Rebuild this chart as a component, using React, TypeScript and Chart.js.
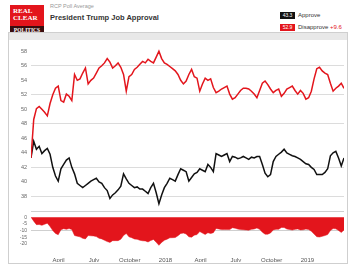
import React, { useEffect, useRef } from "react";
import { Chart, registerables } from "chart.js";

Chart.register(...registerables);

// Weekly RCP averages, starting on the first week below
const START_DATE = "2017-01-20";

const approve = [
  43.3, 45.6, 44.5, 44.9, 43.9, 44.3, 44.6, 43.8, 42.0, 40.8,
  40.1, 41.8, 42.4, 43.0, 43.3, 42.0, 41.1, 39.8, 39.5, 39.2,
  39.5, 39.8, 40.1, 40.3, 40.5, 40.0, 39.8, 39.2, 38.8, 37.7,
  38.2, 38.5, 38.9, 39.4, 41.1, 40.4, 39.8, 39.5, 39.2, 39.3,
  39.0, 39.0, 38.7, 38.4, 39.2, 39.8, 38.5, 37.0, 38.2, 39.2,
  39.8, 40.5, 40.3, 40.1, 41.0, 41.8, 41.6, 41.4, 40.1, 40.6,
  41.1, 41.3, 41.8, 41.6, 41.4, 42.4, 42.0, 41.4, 43.9, 43.7,
  43.5, 43.7, 43.9, 42.8, 43.5, 43.4, 43.2, 43.3, 43.5, 43.3,
  43.1, 43.4, 43.3, 43.5, 43.5, 42.4, 41.2, 40.7, 41.0, 42.8,
  43.5, 43.8, 44.1, 44.5, 44.0, 43.8, 43.6, 43.5, 43.3, 43.1,
  42.8, 42.5, 42.4, 42.0, 41.7, 41.0, 41.0, 41.0, 41.3, 41.8,
  43.6, 44.0, 44.2, 43.3, 42.2, 43.3,
];

const disapprove = [
  43.3, 48.6, 50.1, 50.4, 50.0, 49.6, 49.1, 50.8, 52.0, 52.9,
  53.2, 51.2, 51.0, 52.1, 51.8, 51.2, 54.8, 54.0, 54.2, 55.0,
  55.7, 53.5, 54.0, 54.3, 55.0, 55.7, 56.0, 56.4, 57.0, 56.5,
  55.7, 56.0, 56.4, 55.8, 54.8, 52.5, 54.5, 54.8, 55.5, 55.8,
  56.2, 56.6, 56.4, 56.9, 56.6, 56.4, 57.2, 58.0, 57.0, 56.4,
  56.2, 55.9, 55.6, 55.3, 54.8, 54.0, 53.5, 53.9, 54.8, 55.5,
  54.5, 54.3, 52.5, 53.5, 54.3, 54.0, 54.2, 53.0, 52.3, 52.5,
  52.8, 53.0, 53.2, 52.1, 51.4, 51.6, 52.1, 52.6, 52.9, 52.9,
  52.8, 52.5, 52.1, 51.6, 52.6, 53.6, 53.9, 53.4, 52.8, 52.3,
  52.6, 52.8, 51.8, 52.2, 52.8, 53.0, 53.2, 52.6, 52.1, 52.6,
  52.2, 51.4, 51.6, 52.5, 54.2, 55.6, 55.8, 55.3, 55.0, 54.8,
  53.6, 52.5, 52.9, 53.2, 53.6, 52.9,
];

const xTickDates = [
  "2017-04-01", "2017-07-01", "2017-10-01", "2018-01-01",
  "2018-04-01", "2018-07-01", "2018-10-01", "2019-01-01",
];
const xTickLabels = ["April", "July", "October", "2018", "April", "July", "October", "2019"];

const mainTicks = [58, 56, 54, 52, 50, 48, 46, 44, 42, 40, 38];
const mainGridValues = [56, 52, 48, 42, 38];
const spreadTicks = [0, -5, -10, -15, -20];

const DAY_MS = 86400000;
const dayOf = (d: string) => (Date.parse(d) - Date.parse(START_DATE)) / DAY_MS;

const RED = "#e3151c";
const FONT = "'Liberation Sans', Arial, sans-serif";

function RcpChart() {
  const ref = useRef<HTMLCanvasElement | null>(null);
  useEffect(() => {
    if (!ref.current) return;
    const days = approve.map((_, i) => i * 7);
    const approvePts = approve.map((v, i) => ({ x: days[i], y: v }));
    const disapprovePts = disapprove.map((v, i) => ({ x: days[i], y: v }));
    const spreadPts = approve.map((v, i) => ({ x: days[i], y: +(v - disapprove[i]).toFixed(1) }));
    const tickDays = xTickDates.map(dayOf);
    const SPREAD_TOP = 4.4;

    const chart = new Chart(ref.current, {
      type: "line",
      data: {
        datasets: [
          {
            data: disapprovePts,
            yAxisID: "y",
            borderColor: RED,
            borderWidth: 1.5,
            pointRadius: 0,
            fill: false,
            tension: 0,
          },
          {
            data: approvePts,
            yAxisID: "y",
            borderColor: "#111",
            borderWidth: 1.5,
            pointRadius: 0,
            fill: false,
            tension: 0,
          },
          {
            data: spreadPts,
            yAxisID: "y2",
            borderColor: RED,
            borderWidth: 0.5,
            backgroundColor: RED,
            pointRadius: 0,
            fill: "origin",
            tension: 0,
          },
        ],
      },
      options: {
        animation: false,
        responsive: false,
        maintainAspectRatio: false,
        layout: { padding: { top: 6, right: 3, left: 0, bottom: 0 } },
        plugins: { legend: { display: false }, tooltip: { enabled: false } },
        scales: {
          x: {
            type: "linear",
            min: 0,
            max: (approve.length - 1) * 7,
            afterBuildTicks: (s: any) => {
              s.ticks = tickDays.map((v) => ({ value: v }));
            },
            afterFit: (s: any) => {
              s.height = 16;
            },
            ticks: {
              autoSkip: false,
              maxRotation: 0,
              padding: 3,
              color: "#555",
              font: { size: 6, family: FONT },
              callback: (v: any) => {
                const idx = tickDays.indexOf(v);
                return idx >= 0 ? xTickLabels[idx] : "";
              },
            },
            grid: { display: false },
            border: { display: false },
          },
          y2: {
            type: "linear",
            position: "left",
            stack: "panels",
            stackWeight: 35,
            min: -21.5,
            max: SPREAD_TOP,
            afterBuildTicks: (s: any) => {
              s.ticks = [SPREAD_TOP, ...spreadTicks].map((v) => ({ value: v }));
            },
            afterFit: (s: any) => {
              s.width = 22;
            },
            ticks: {
              autoSkip: false,
              padding: 4,
              color: "#666",
              font: { size: 5, family: FONT },
              callback: (v: any) => (v === SPREAD_TOP ? "" : String(v)),
            },
            grid: {
              drawTicks: false,
              color: (ctx: any) =>
                ctx.tick && (ctx.tick.value === SPREAD_TOP || ctx.tick.value === -10)
                  ? "#cfcfcf"
                  : "rgba(0,0,0,0)",
            },
            border: { display: false },
          },
          y: {
            type: "linear",
            position: "left",
            stack: "panels",
            stackWeight: 165,
            min: 35.95,
            max: 58.55,
            afterBuildTicks: (s: any) => {
              s.ticks = mainTicks.map((v) => ({ value: v }));
            },
            afterFit: (s: any) => {
              s.width = 22;
            },
            ticks: {
              autoSkip: false,
              padding: 4,
              color: "#666",
              font: { size: 5.5, family: FONT },
            },
            grid: {
              drawTicks: false,
              lineWidth: 1,
              color: (ctx: any) =>
                ctx.tick && mainGridValues.includes(ctx.tick.value) ? "#dcdcdc" : "rgba(0,0,0,0)",
            },
            border: { display: false },
          },
        },
      },
    });
    return () => chart.destroy();
  }, []);
  return (
    <canvas
      ref={ref}
      width={338}
      height={222}
      style={{ position: "absolute", left: 9, top: 40, width: 338, height: 222 }}
    />
  );
}

export default function App() {
  const last = approve.length - 1;
  const a = approve[last];
  const d = disapprove[last];
  const spread = (d - a).toFixed(1);
  return (
    <div style={{ position: "relative", width: 350, height: 268, background: "#fff", fontFamily: FONT, overflow: "hidden" }}>
      <style>{`body{margin:0}`}</style>
      {/* logo */}
      <div style={{ position: "absolute", left: 10, top: 5, width: 34, height: 30, background: RED, overflow: "hidden" }}>
        <div style={{ position: "absolute", left: 3, top: 3, color: "#fff", fontFamily: "'Liberation Serif', serif", fontSize: 7, lineHeight: "7px", fontWeight: "bold" }}>
          REAL<br />CLEAR
        </div>
        <div style={{ position: "absolute", left: 0, bottom: 0, width: 34, height: 9, background: "#3a0d0e", color: "#fff", fontFamily: "'Liberation Serif', serif", fontSize: 5.5, lineHeight: "9px", textAlign: "center", fontWeight: "bold" }}>
          POLITICS
        </div>
      </div>
      <div style={{ position: "absolute", left: 50, top: 3, fontSize: 5.5, color: "#999" }}>RCP Poll Average</div>
      <div style={{ position: "absolute", left: 50, top: 13, fontSize: 7.5, color: "#333", fontWeight: "bold" }}>
        President Trump Job Approval
      </div>
      {/* legend */}
      <div style={{ position: "absolute", left: 280, top: 12, width: 15, height: 7, background: "#111", color: "#fff", fontSize: 5, lineHeight: "7px", textAlign: "center" }}>
        {a.toFixed(1)}
      </div>
      <div style={{ position: "absolute", left: 298, top: 11, fontSize: 6, lineHeight: "9px", color: "#333" }}>Approve</div>
      <div style={{ position: "absolute", left: 280, top: 24, width: 15, height: 7, background: RED, color: "#fff", fontSize: 5, lineHeight: "7px", textAlign: "center" }}>
        {d.toFixed(1)}
      </div>
      <div style={{ position: "absolute", left: 298, top: 23, fontSize: 6, lineHeight: "9px", color: "#333", whiteSpace: "nowrap" }}>
        Disapprove <span style={{ color: RED }}>+{spread}</span>
      </div>
      {/* chart frame */}
      <div style={{ position: "absolute", left: 8, top: 32, width: 340, height: 232, border: "1px solid #cfcfcf", boxSizing: "border-box" }} />
      <div style={{ position: "absolute", left: 9, top: 33, width: 338, height: 7, background: "#e8e8e8" }} />
      <RcpChart />
    </div>
  );
}
